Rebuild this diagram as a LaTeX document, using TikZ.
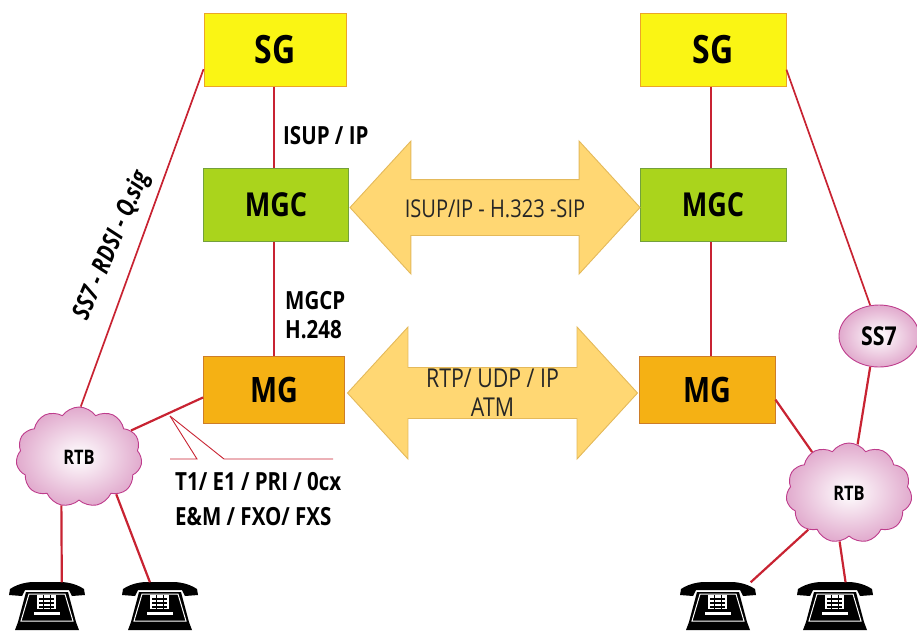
\documentclass[tikz,border=0pt]{standalone}
\usepackage{fontspec}
\usepackage{tikz}
\setmainfont[FakeStretch=0.82]{Open Sans}
\usetikzlibrary{shapes.arrows,shapes.symbols,shapes.geometric}
\definecolor{linered}{RGB}{200,35,50}
\definecolor{cloudpink}{RGB}{225,170,205}
\definecolor{cloudedge}{RGB}{190,60,140}
\tikzset{
  box/.style={draw,line width=0.9pt,inner sep=0pt},
  sgbox/.style={box,fill={rgb,255:red,250;green,245;blue,20},draw={rgb,255:red,235;green,165;blue,40},minimum width=142pt,minimum height=73pt,font=\bfseries\fontsize{39}{41}\selectfont},
  mgcbox/.style={box,fill={rgb,255:red,170;green,212;blue,28},draw={rgb,255:red,115;green,160;blue,60},minimum width=145pt,minimum height=73pt,font=\bfseries\fontsize{33}{35}\selectfont},
  mgbox/.style={box,fill={rgb,255:red,245;green,177;blue,20},draw={rgb,255:red,205;green,125;blue,40},minimum width=141pt,minimum height=67pt,font=\bfseries\fontsize{35}{37}\selectfont},
  bigarrow/.style={double arrow,draw={rgb,255:red,228;green,185;blue,90},fill={rgb,255:red,255;green,215;blue,115},line width=0.9pt,inner sep=0pt,align=center,text=black!85,minimum height=290pt,minimum width=132pt,double arrow head extend=38.5pt,double arrow tip angle=95},
  rtbcloud/.style={cloud,cloud puffs=11,cloud puff arc=110,aspect=1.25,draw=cloudedge,line width=0.9pt,inner color=white,outer color=cloudpink,inner sep=0pt,minimum width=126pt,minimum height=100pt,font=\bfseries\fontsize{20}{22}\selectfont},
  conn/.style={draw=linered,line width=2.2pt},
  thin conn/.style={draw=linered,line width=0.9pt},
  lab/.style={inner sep=0pt,align=left,font=\bfseries\fontsize{25}{29}\selectfont},
  telbox/.style={minimum width=74pt,minimum height=47pt,inner sep=0pt},
  phone/.pic={
    % handset
    \fill[black] (-38,-11) -- (-37,-17) .. controls (-28,-23) and (-18,-24) .. (-13,-24) -- (13,-24) .. controls (18,-24) and (28,-23) .. (37,-17) -- (38,-11) -- (25,-10) -- (22,-16) -- (-22,-16) -- (-25,-10) -- cycle;
    % body
    \fill[black] (-21,-14) -- (21,-14) -- (29,16) -- (32,24) -- (-32,24) -- (-29,16) -- cycle;
    \draw[white,line width=1pt] (-18,-12) -- (18,-12) -- (26,15) -- (-26,15) -- cycle;
    \fill[white] (-10,-11) rectangle (9,3);
    \foreach \row in {-7,-3,1} \draw[black,line width=1.3pt] (-8,\row) -- (7,\row);
    \foreach \col in {-4,3} \draw[black,line width=0.8pt] (\col,-11) -- (\col,3);
    \fill[white] (-13,6) rectangle (13,9);
  }
}
\begin{document}
\begin{tikzpicture}[x=1pt,y=-1pt]
\useasboundingbox (0,0) rectangle (917,630);

% left column
\node [sgbox] (sgl) at (275,50) {SG};
\node [mgcbox] (mgcl) at (276,205) {MGC};
\node [mgbox] (mgl) at (274,390) {MG};
% right column
\node [sgbox,minimum width=146pt] (sgr) at (713,50) {SG};
\node [mgcbox,minimum width=146pt] (mgcr) at (713,205) {MGC};
\node [mgbox,minimum width=136pt] (mgr) at (707,390) {MG};

% arrows between the columns
\node [bigarrow,text height=37pt,text depth=18pt,font=\fontsize{24.5}{29}\selectfont] (sigarrow) at (495,207.5) {ISUP/IP - H.323 -SIP};
\node [bigarrow,font=\fontsize{26}{29}\selectfont] (mediaarrow) at (492.5,393) {RTP/ UDP / IP\\ATM};

% clouds
\node [rtbcloud] (rtbl) at (79,457) {RTB};
\node [rtbcloud] (rtbr) at (849,493) {RTB};
\node [draw=cloudedge,line width=0.9pt,ellipse,inner color=white,outer color=cloudpink,minimum width=80pt,minimum height=62pt,inner sep=0pt,font=\bfseries\fontsize{26}{28}\selectfont] (ss7) at (879,336) {SS7};

% phones
\node [telbox] (tela) at (47,606) {};
\node [telbox] (telb) at (160,606) {};
\node [telbox] (telc) at (718,606) {};
\node [telbox] (teld) at (835,606) {};
\pic at (tela) {phone};
\pic at (telb) {phone};
\pic at (telc) {phone};
\pic at (teld) {phone};

% connectors
\draw [conn] (sgl.south -| mgl) -- (mgcl.north -| mgl);
\draw [conn] (mgcl.south -| mgl) -- (mgl);
\draw [conn] ([xshift=-2pt]sgr.south) -- ([xshift=-2pt]mgcr.north);
\draw [conn] ([xshift=-2pt]mgcr.south) -- ([xshift=4pt]mgr.north);
\draw [conn,line width=1.7pt] (sgl.195) -- (rtbl.88);
\draw [conn] (mgl.186) -- (rtbl.27);
\draw [conn] (rtbl.-110) -- (tela.58);
\draw [conn] (rtbl.-45) -- (telb.113);
\draw [conn,line width=1.7pt] (sgr.-15) -- (ss7.106);
\draw [conn] (ss7.-106) -- (rtbr.80);
\draw [conn] (mgr.-8) -- (rtbr.132);
\draw [conn] (rtbr.-138) -- (telc.36);
\draw [conn] (rtbr.-101) -- (teld.66);

% callout under the MG link
\coordinate (callout) at (170,416);
\coordinate (calla) at (197,459);
\coordinate (callb) at (224,459);
\coordinate (callc) at (170,459);
\coordinate (calld) at (333,459);
\draw [thin conn] (callout) -- (calla) -- (callc);
\draw [thin conn] (callout) -- (callb) -- (calld);

% labels
\node [lab,anchor=west] (isup) at (283,136) {ISUP / IP};
\node [lab,anchor=west] (mgcp) at (285,315) {MGCP\\H.248};
\node [lab,anchor=west,font=\bfseries\fontsize{25}{35}\selectfont] (t1) at (175,499) {T1/ E1 / PRI / 0cx\\E\&M / FXO/ FXS};
\node [lab,rotate=67,font=\bfseries\itshape\fontsize{25}{27}\selectfont] (sigla) at (112,246) {SS7 - RDSI - Q.sig};
\end{tikzpicture}
\end{document}
